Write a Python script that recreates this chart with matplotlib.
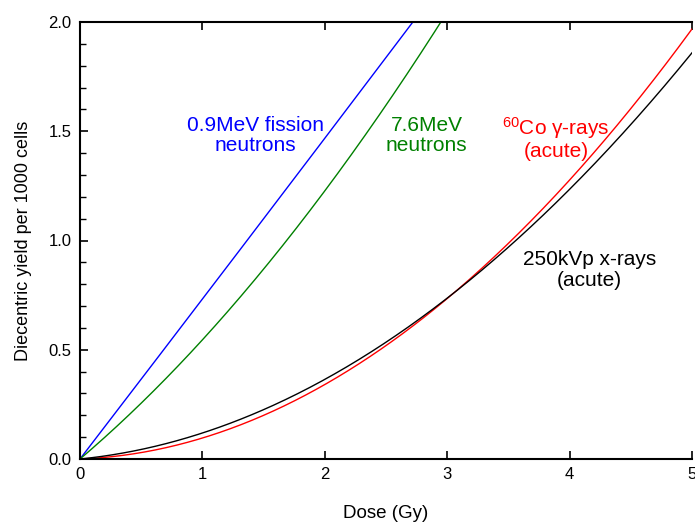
import numpy as np
import matplotlib
matplotlib.use("Agg")
import matplotlib.pyplot as plt
from matplotlib.ticker import MultipleLocator, FormatStrFormatter

plt.rcParams['font.family'] = ['Liberation Sans', 'DejaVu Sans']
plt.rcParams['mathtext.fontset'] = 'custom'
plt.rcParams['mathtext.rm'] = 'Liberation Sans'
plt.rcParams['mathtext.default'] = 'rm'

# Linear-quadratic dose-response coefficients: Y = alpha*D + beta*D^2
series_names = ["0.9MeV fission neutrons", "7.6MeV neutrons", "60Co gamma-rays (acute)", "250kVp x-rays (acute)"]
alpha = [0.730, 0.477, 0.0216, 0.0558]
beta = [0.002, 0.0683, 0.0744, 0.0632]
colors = ["#0000ff", "#008000", "#ff0000", "#000000"]

dose = np.linspace(0, 5, 400)

fig = plt.figure(figsize=(6.95, 5.22), dpi=100)
ax = fig.add_axes([80/695, 1-459/522, 612/695, 437/522])

for a, b, c in zip(alpha, beta, colors):
    ax.plot(dose, a*dose + b*dose**2, color=c, lw=1.0)

ax.set_xlim(0, 5)
ax.set_ylim(0, 2.0)
ax.xaxis.set_major_locator(MultipleLocator(1))
ax.yaxis.set_major_locator(MultipleLocator(0.5))
ax.yaxis.set_minor_locator(MultipleLocator(0.1))
ax.yaxis.set_major_formatter(FormatStrFormatter('%.1f'))
ax.tick_params(axis='both', which='major', direction='in', length=6, width=1.2, labelsize=12, pad=6)
ax.tick_params(axis='y', which='minor', direction='in', length=4, width=1.0)
ax.tick_params(axis='x', top=True, which='major')
ax.spines['right'].set_visible(False)
for s in ['left', 'bottom', 'top']:
    ax.spines[s].set_linewidth(1.5)

ax.set_xlabel("Dose (Gy)", fontsize=13.5, labelpad=16)
ax.set_ylabel("Diecentric yield per 1000 cells", fontsize=13, labelpad=12)

label_kw = dict(fontsize=15, ha='center', va='center', linespacing=1.1)
ax.text(1.43, 1.48, "0.9MeV fission\nneutrons", color=colors[0], **label_kw)
ax.text(2.83, 1.48, "7.6MeV\nneutrons", color=colors[1], **label_kw)
ax.text(3.89, 1.47, "$^{60}$Co γ-rays\n(acute)", color=colors[2], **label_kw)
ax.text(4.16, 0.865, "250kVp x-rays\n(acute)", color=colors[3], **label_kw)

fig.savefig("out.png", dpi=100)
